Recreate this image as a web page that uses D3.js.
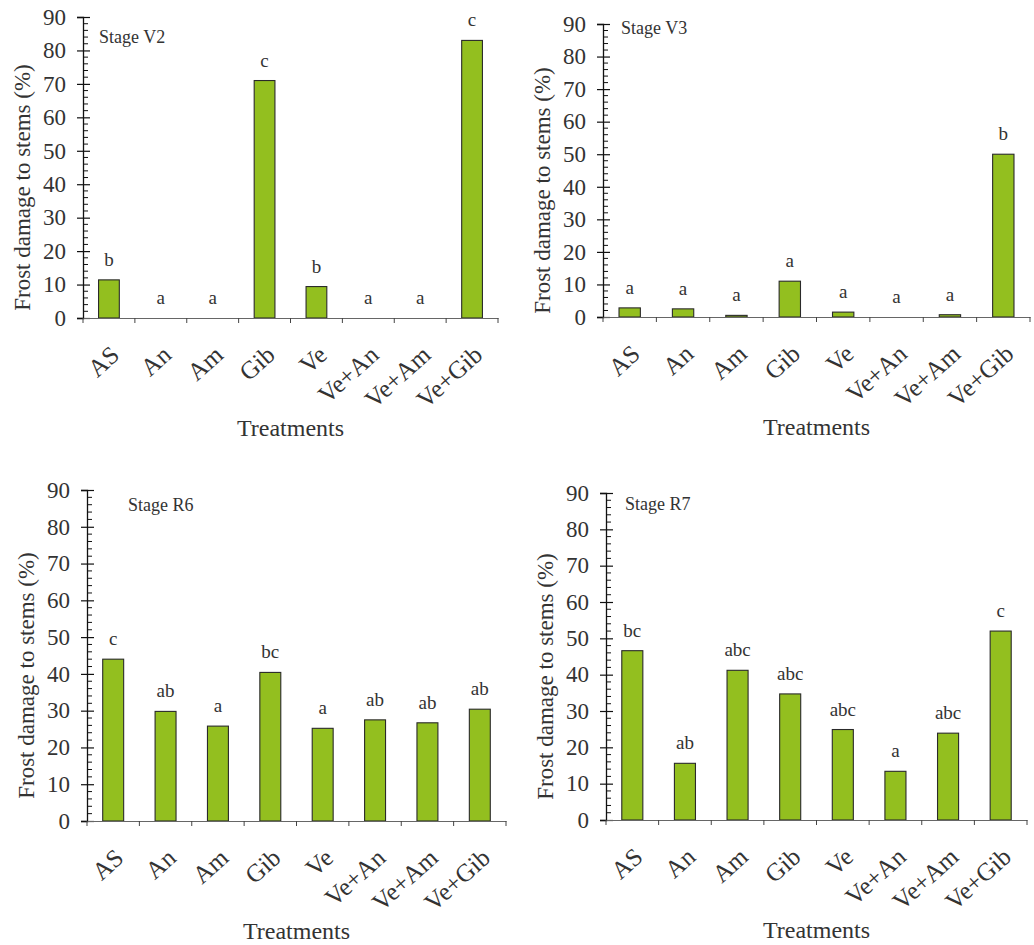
<!DOCTYPE html>
<html><head><meta charset="utf-8">
<script src="https://cdn.jsdelivr.net/npm/d3@7"></script>
</head><body style="margin:0"><svg id="c" width="1034" height="945"></svg>
<script>
const categories = ["AS","An","Am","Gib","Ve","Ve+An","Ve+Am","Ve+Gib"];
const yTicks = [0,10,20,30,40,50,60,70,80,90];
const stageNames = ["Stage V2","Stage V3","Stage R6","Stage R7"];
const valuesV2 = [11.4,0,0,71,9.4,0,0,83];
const lettersV2 = ["b","a","a","c","b","a","a","c"];
const valuesV3 = [2.8,2.5,0.5,11,1.5,0,0.7,50];
const lettersV3 = ["a","a","a","a","a","a","a","b"];
const valuesR6 = [44,29.8,25.8,40.4,25.2,27.5,26.7,30.4];
const lettersR6 = ["c","ab","a","bc","a","ab","ab","ab"];
const valuesR7 = [46.6,15.6,41.2,34.7,24.9,13.4,23.9,52];
const lettersR7 = ["bc","ab","abc","abc","abc","a","abc","c"];

const TXT = "#333";
const panels = [
  {name:stageNames[0], values:valuesV2, letters:lettersV2, x0:83, x1:498, yTop:17, y0:318, sx:99, sy:43},
  {name:stageNames[1], values:valuesV3, letters:lettersV3, x0:603, x1:1030, yTop:24, y0:317, sx:621, sy:34},
  {name:stageNames[2], values:valuesR6, letters:lettersR6, x0:87, x1:506, yTop:490, y0:821, sx:128, sy:511},
  {name:stageNames[3], values:valuesR7, letters:lettersR7, x0:606, x1:1027, yTop:493, y0:820, sx:625, sy:510}
];
const svg = d3.select("#c");
function T(sel, size){ return sel.style("font-family",'"Liberation Serif"').style("font-size",size+"px").style("fill",TXT); }
panels.forEach(p => {
  const x = d3.scaleBand().domain(categories).range([p.x0, p.x1]).paddingInner(0).paddingOuter(0);
  const y = d3.scaleLinear().domain([0,90]).range([p.y0, p.yTop]);
  const bw = x.bandwidth()*0.4;
  svg.append("g").selectAll("rect").data(p.values).enter().append("rect")
    .attr("x",(d,i)=>x(categories[i])+x.bandwidth()/2-bw/2)
    .attr("y",d=>y(d))
    .attr("width",bw)
    .attr("height",d=>p.y0-y(d))
    .attr("fill","#93bf1f").attr("stroke","#2a2a2a").attr("stroke-width",1.1);
  p.values.forEach((d,i)=>{
    T(svg.append("text").attr("x",x(categories[i])+x.bandwidth()/2).attr("y",y(d)-14)
      .attr("text-anchor","middle"),19).text(p.letters[i]);
  });
  const ya = svg.append("g").attr("transform",`translate(${p.x0},0)`)
    .call(d3.axisLeft(y).tickValues(yTicks).tickSize(6).tickFormat(""));
  ya.select(".domain").attr("stroke","#111").attr("stroke-width",1.3);
  ya.selectAll(".tick line").attr("stroke","#111").attr("x2",-6).attr("x1",7).attr("stroke-width",1.2);
  ya.selectAll(".tick text").remove();
  yTicks.forEach(v=>{
    T(svg.append("text").attr("x",p.x0-17).attr("y",y(v)).attr("dy","0.34em").attr("text-anchor","end"),23).text(v);
  });
  const minor = d3.range(0,91,2).filter(v=>v%10!==0);
  svg.append("g").selectAll("line").data(minor).enter().append("line")
    .attr("x1",p.x0).attr("x2",p.x0+5).attr("y1",d=>y(d)).attr("y2",d=>y(d))
    .attr("stroke","#111").attr("stroke-width",1);
  const xa = svg.append("g").attr("transform",`translate(0,${p.y0})`)
    .call(d3.axisBottom(x).tickSize(0).tickFormat(""));
  xa.selectAll(".tick").remove();
  xa.select(".domain").attr("stroke","#666").attr("stroke-width",1.2);
  const bounds = categories.map(c=>x(c)).concat([p.x1]);
  svg.append("g").selectAll("line").data(bounds).enter().append("line")
    .attr("x1",d=>d).attr("x2",d=>d).attr("y1",p.y0).attr("y2",p.y0+5)
    .attr("stroke","#444").attr("stroke-width",1);
  categories.forEach(c=>{
    T(svg.append("text").attr("transform",`translate(${x(c)+x.bandwidth()/2+12},${p.y0+39}) rotate(-42)`)
      .attr("text-anchor","end"),25).text(c);
  });
  T(svg.append("text").attr("x",(p.x0+p.x1)/2).attr("y",p.y0+118)
    .attr("text-anchor","middle"),24).text("Treatments");
  T(svg.append("text").attr("transform",`translate(${p.x0-53},${(p.y0+p.yTop)/2+20}) rotate(-90)`)
    .attr("text-anchor","middle"),23).text("Frost damage to stems (%)");
  T(svg.append("text").attr("x",p.sx).attr("y",p.sy),18).text(p.name);
});
</script></body></html>
